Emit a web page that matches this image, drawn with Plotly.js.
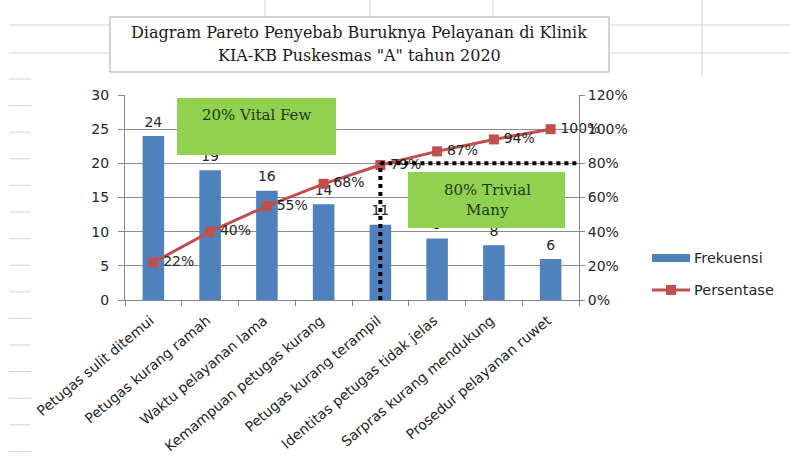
<!DOCTYPE html>
<html>
<head>
<meta charset="utf-8">
<script src="https://cdn.plot.ly/plotly-3.0.1.min.js"></script>
<style>html,body{margin:0;padding:0;background:#fff;}#chart{width:790px;height:463px;}</style>
</head>
<body>
<div id="chart"></div>
<script>
// ---- data ----
var categories = ["Petugas sulit ditemui","Petugas kurang ramah","Waktu pelayanan lama","Kemampuan petugas kurang","Petugas kurang terampil","Identitas petugas tidak jelas","Sarpras kurang mendukung","Prosedur pelayanan ruwet"];
var frekuensi = [24, 19, 16, 14, 11, 9, 8, 6];
var persentase = [0.22, 0.40, 0.55, 0.68, 0.79, 0.87, 0.94, 1.00];
var persenLabels = ["22%","40%","55%","68%","79%","87%","94%","100%"];
var leftTicks = [0, 5, 10, 15, 20, 25, 30];
var rightTicks = [0, 0.2, 0.4, 0.6, 0.8, 1.0, 1.2];
var rightTickText = ["0%","20%","40%","60%","80%","100%","120%"];
var titleLines = ["Diagram Pareto Penyebab Buruknya Pelayanan di Klinik", "KIA-KB Puskesmas \"A\" tahun 2020"];
var legendNames = ["Frekuensi", "Persentase"];
var cutoff = 0.80;

// plot area in pixels
var L = 125, R = 579, T = 95, B = 300;
function px(x){ return (x - L) / (R - L); }
function py(y){ return (B - y) / (B - T); }

var blue = "#4F81BD", red = "#C0504D", green = "#92D050";
var sans = "DejaVu Sans, sans-serif";
var serif = "DejaVu Serif, serif";
var txt = "#262626";

// index where the cumulative percentage reaches the cut-off
var cutIdx = 0;
for (var i = 0; i < persentase.length; i++) { if (persentase[i] >= cutoff - 0.015) { cutIdx = i; break; } }

var traces = [
  {
    type: "bar", x: categories, y: frekuensi, name: legendNames[0],
    marker: {color: blue}, hoverinfo: "x+y", showlegend: false
  },
  { // bar value labels
    type: "scatter", mode: "markers+text", x: categories, y: frekuensi,
    marker: {size: 8, opacity: 0}, text: frekuensi.map(String), textposition: "top center",
    textfont: {family: sans, size: 14, color: txt}, cliponaxis: false, showlegend: false, hoverinfo: "skip"
  },
  {
    type: "scatter", mode: "lines+markers", x: categories, y: persentase, yaxis: "y2",
    name: legendNames[1], line: {color: red, width: 3},
    marker: {symbol: "square", size: 10, color: red}, cliponaxis: false, showlegend: false
  },
  { // percentage labels
    type: "scatter", mode: "markers+text", x: categories, y: persentase, yaxis: "y2",
    marker: {size: 14, opacity: 0}, text: persenLabels, textposition: "middle right",
    textfont: {family: sans, size: 14, color: txt}, cliponaxis: false, showlegend: false, hoverinfo: "skip"
  }
];

var shapes = [];
var gl = {color: "#d4d4d4", width: 1};
// spreadsheet gridlines showing around the chart object
[25, 53].forEach(function(y){
  shapes.push({type:"line", xref:"paper", yref:"paper", x0:px(9), x1:px(110), y0:py(y), y1:py(y), line:gl, layer:"below"});
  shapes.push({type:"line", xref:"paper", yref:"paper", x0:px(610), x1:px(790), y0:py(y), y1:py(y), line:gl, layer:"below"});
});
shapes.push({type:"line", xref:"paper", yref:"paper", x0:px(702), x1:px(702), y0:py(0), y1:py(77), line:gl, layer:"below"});
[265, 370, 493].forEach(function(x){
  shapes.push({type:"line", xref:"paper", yref:"paper", x0:px(x), x1:px(x), y0:py(0), y1:py(17), line:gl, layer:"below"});
});
for (var k = 0; k < 15; k++) {
  var yy = 79 + k * 26.6;
  shapes.push({type:"line", xref:"paper", yref:"paper", x0:px(9), x1:px(31), y0:py(yy), y1:py(yy), line:gl, layer:"below"});
}
// title box
shapes.push({type:"rect", xref:"paper", yref:"paper", x0:px(110), x1:px(609), y0:py(17), y1:py(72), fillcolor:"#fff", line:{color:"#a6a6a6", width:1}, layer:"below"});
// green boxes
shapes.push({type:"rect", xref:"paper", yref:"paper", x0:px(177), x1:px(336), y0:py(98), y1:py(155), fillcolor:green, line:{width:0}, layer:"above"});
shapes.push({type:"rect", xref:"paper", yref:"paper", x0:px(408), x1:px(565), y0:py(172), y1:py(228), fillcolor:green, line:{width:0}, layer:"above"});
// dotted cut-off lines
shapes.push({type:"line", xref:"x", yref:"y2", x0:cutIdx, x1:cutIdx, y0:0, y1:cutoff, line:{color:"#000", width:4, dash:"dot"}, layer:"above"});
shapes.push({type:"line", xref:"x", yref:"y2", x0:cutIdx, x1:categories.length - 0.5, y0:cutoff, y1:cutoff, line:{color:"#000", width:4, dash:"dot"}, layer:"above"});
// legend symbols
shapes.push({type:"rect", xref:"paper", yref:"paper", x0:px(652), x1:px(690), y0:py(254), y1:py(262), fillcolor:blue, line:{width:0}});
shapes.push({type:"line", xref:"paper", yref:"paper", x0:px(652), x1:px(690), y0:py(290), y1:py(290), line:{color:red, width:3}});
shapes.push({type:"rect", xref:"paper", yref:"paper", x0:px(666), x1:px(676), y0:py(285), y1:py(295), fillcolor:red, line:{width:0}});

var annotations = [
  {xref:"paper", yref:"paper", x:px(359), y:py(33), text:titleLines[0], showarrow:false, xanchor:"center", yanchor:"middle", font:{family:serif, size:16, color:"#1a1a1a"}},
  {xref:"paper", yref:"paper", x:px(359), y:py(55), text:titleLines[1], showarrow:false, xanchor:"center", yanchor:"middle", font:{family:serif, size:16, color:"#1a1a1a"}},
  {xref:"paper", yref:"paper", x:px(256), y:py(115), text:"20% Vital Few", showarrow:false, xanchor:"center", yanchor:"middle", font:{family:serif, size:15, color:"#203a18"}},
  {xref:"paper", yref:"paper", x:px(487), y:py(190), text:"80% Trivial", showarrow:false, xanchor:"center", yanchor:"middle", font:{family:serif, size:15, color:"#203a18"}},
  {xref:"paper", yref:"paper", x:px(487), y:py(210), text:"Many", showarrow:false, xanchor:"center", yanchor:"middle", font:{family:serif, size:15, color:"#203a18"}},
  {xref:"paper", yref:"paper", x:px(692), y:py(258), text:legendNames[0], showarrow:false, xanchor:"left", yanchor:"middle", font:{family:sans, size:14.5, color:txt}},
  {xref:"paper", yref:"paper", x:px(692), y:py(290), text:legendNames[1], showarrow:false, xanchor:"left", yanchor:"middle", font:{family:sans, size:14.5, color:txt}}
];

var layout = {
  width: 790, height: 463,
  margin: {l: L, r: 790 - R, t: T, b: 463 - B, pad: 0},
  paper_bgcolor: "#fff", plot_bgcolor: "rgba(0,0,0,0)",
  showlegend: false, bargap: 0.62,
  font: {family: sans, size: 13, color: txt},
  xaxis: {
    type: "category", range: [-0.5, categories.length - 0.5], tickangle: -40, showgrid: false,
    showline: true, linecolor: "#868686", linewidth: 1,
    ticks: "outside", ticklen: 5, tickcolor: "#868686", tickson: "boundaries",
    ticklabelstandoff: 6, ticklabelshift: -3,
    tickfont: {family: sans, size: 14, color: txt}, automargin: false
  },
  yaxis: {
    range: [0, 30], tickvals: leftTicks, showgrid: true, gridcolor: "#8c8c8c", gridwidth: 1,
    showline: true, linecolor: "#868686", ticks: "outside", ticklen: 6, tickcolor: "#868686",
    ticklabelstandoff: 6,
    tickfont: {family: sans, size: 14, color: txt}, zeroline: false, automargin: false
  },
  yaxis2: {
    overlaying: "y", side: "right", range: [0, 1.2], tickvals: rightTicks, ticktext: rightTickText,
    showgrid: false, showline: true, linecolor: "#868686", ticks: "outside", ticklen: 5, tickcolor: "#868686",
    tickfont: {family: sans, size: 14, color: txt}, zeroline: false, automargin: false
  },
  shapes: shapes,
  annotations: annotations
};

Plotly.newPlot("chart", traces, layout, {displayModeBar: false, staticPlot: true});
</script>
</body>
</html>
